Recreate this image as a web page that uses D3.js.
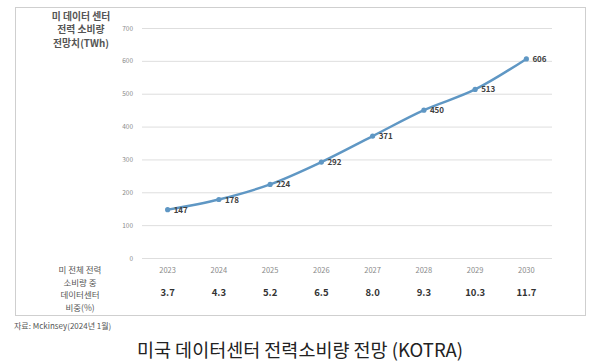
<!DOCTYPE html>
<html><head><meta charset="utf-8">
<script src="https://cdn.jsdelivr.net/npm/d3@7/dist/d3.min.js"></script>
<style>body{margin:0;background:#fff}svg{display:block}</style>
</head><body><svg id="c" width="600" height="364"></svg>
<script>
const years = ["2023","2024","2025","2026","2027","2028","2029","2030"];
const consumption = [147,178,224,292,371,450,513,606];
const shares = ["3.7","4.3","5.2","6.5","8.0","9.3","10.3","11.7"];
const yTicks = [0,100,200,300,400,500,600,700];
const yTitle = ["미 데이터 센터","전력 소비량","전망치(TWh)"];
const shareTitle = ["미 전체 전력","소비량 중","데이터센터","비중(%)"];
const source = "자료: Mckinsey(2024년 1월)";
const title = "미국 데이터센터 전력소비량 전망 (KOTRA)";

const svg = d3.select("#c");
const font = "'Noto Sans CJK KR','Noto Sans',sans-serif";
svg.append("rect").attr("x",15.5).attr("y",7.5).attr("width",570).attr("height",308)
  .attr("fill","#fff").attr("stroke","#cfcfcf");

const x = d3.scaleBand().domain(years).range([142,552]);
const y = d3.scaleLinear().domain([0,700]).range([258,28]);

const g = svg.append("g");
g.selectAll("line.grid").data(yTicks).join("line").attr("class","grid")
  .attr("x1",142).attr("x2",552).attr("y1",d=>y(d)+0.5).attr("y2",d=>y(d)+0.5)
  .attr("stroke","#dedede").attr("stroke-width",1);
g.selectAll("text.yt").data(yTicks).join("text").attr("class","yt")
  .attr("x",133).attr("y",d=>y(d)+2.5).attr("text-anchor","end")
  .attr("font-family",font).attr("font-size",6.5).attr("fill","#8a8a8a").text(d=>d);

g.selectAll("text.xt").data(years).join("text").attr("class","xt")
  .attr("x",d=>x(d)+x.bandwidth()/2).attr("y",273).attr("text-anchor","middle")
  .attr("font-family",font).attr("font-size",7.5).attr("fill","#8a8a8a").text(d=>d);
g.selectAll("text.sh").data(shares).join("text").attr("class","sh")
  .attr("x",(d,i)=>x(years[i])+x.bandwidth()/2).attr("y",296).attr("text-anchor","middle")
  .attr("font-family",font).attr("font-size",9.5).attr("font-weight","bold").attr("fill","#333").text(d=>d);

const line = d3.line().x((d,i)=>x(years[i])+x.bandwidth()/2).y(d=>y(d)).curve(d3.curveMonotoneX);
g.append("path").datum(consumption).attr("d",line).attr("fill","none")
  .attr("stroke","#5f97c4").attr("stroke-width",2.4);
g.selectAll("circle").data(consumption).join("circle")
  .attr("cx",(d,i)=>x(years[i])+x.bandwidth()/2).attr("cy",d=>y(d)).attr("r",2.6).attr("fill","#5f97c4");
g.selectAll("text.vl").data(consumption).join("text").attr("class","vl")
  .attr("x",(d,i)=>x(years[i])+x.bandwidth()/2+6).attr("y",d=>y(d)+3)
  .attr("font-family",font).attr("font-size",8).attr("font-weight","bold").attr("fill","#404040").text(d=>d);

svg.append("text").attr("x",81).attr("text-anchor","middle").attr("font-family",font)
  .attr("font-size",9.8).attr("font-weight","bold").attr("fill","#555")
  .selectAll("tspan").data(yTitle).join("tspan").attr("x",81).attr("y",(d,i)=>19.5+i*13.5).text(d=>d);
svg.append("text").attr("x",80).attr("text-anchor","middle").attr("font-family",font)
  .attr("font-size",8.5).attr("fill","#555")
  .selectAll("tspan").data(shareTitle).join("tspan").attr("x",80).attr("y",(d,i)=>273+i*12.5).text(d=>d);

svg.append("text").attr("x",14).attr("y",329).attr("font-family",font).attr("font-size",8)
  .attr("fill","#555").text(source);
svg.append("text").attr("x",300).attr("y",357).attr("text-anchor","middle").attr("font-family",font)
  .attr("font-size",18.5).attr("fill","#222").text(title);
</script></body></html>
